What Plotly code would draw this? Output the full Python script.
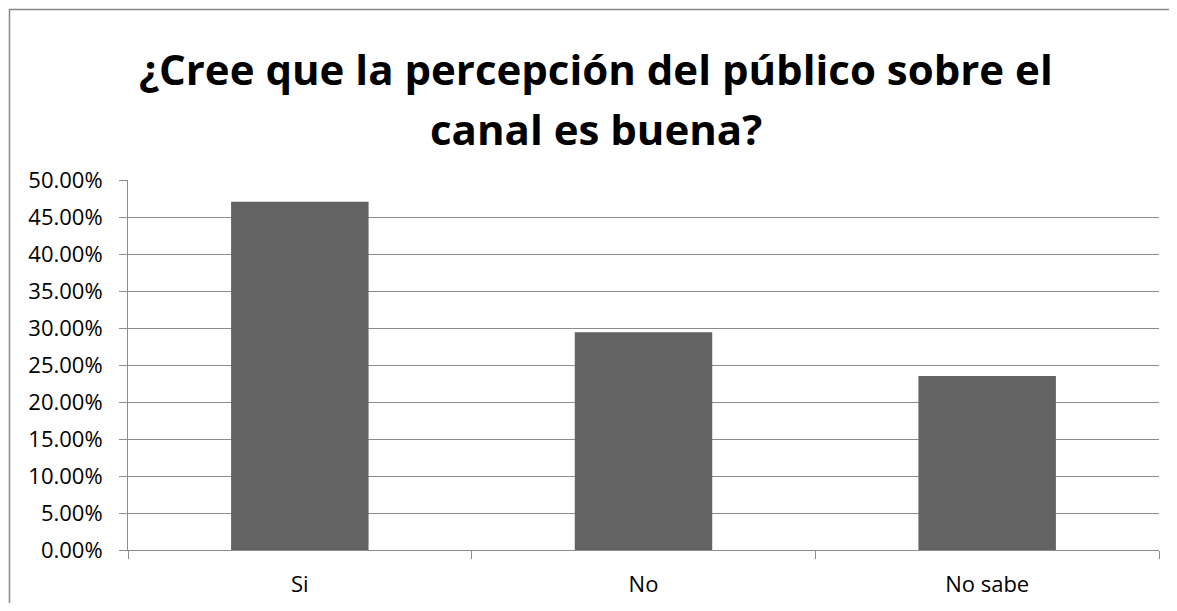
import plotly.graph_objects as go

# ---------------- data ----------------
categories = ["Si", "No", "No sabe"]
values = [0.4706, 0.2941, 0.2353]
title_lines = ["¿Cree que la percepción del público sobre el", "canal es buena?"]

# ---------------- layout (pixels) ----------------
# the page body adds an 8px margin, so figure pixels = screen pixels - 8;
# keep the figure 16px smaller than the window so no scrollbars appear
OFF = 8
W, H = 1177 - 2 * OFF, 611 - 2 * OFF
L, T = 128 - OFF, 180 - OFF
pw, ph = 1031, 370
R = W - L - pw
B = H - T - ph


def px_x(x):
    # screen pixel -> paper x
    return (x - OFF - L) / pw


def px_y(y):
    # screen pixel -> paper y
    return (T + ph - (y - OFF)) / ph


FONT = "Open Sans"
GRID = "#8c8c8c"

fig = go.Figure()
fig.add_trace(go.Bar(
    x=categories,
    y=values,
    marker=dict(color="#636363", line=dict(width=0)),
    hoverinfo="x+y",
))

fig.update_layout(
    width=W, height=H,
    margin=dict(l=L, r=R, t=T, b=B, autoexpand=False),
    paper_bgcolor="white",
    plot_bgcolor="white",
    bargap=0.6,
    showlegend=False,
    font=dict(family=FONT, color="black"),
)

fig.update_yaxes(
    range=[0, 0.5],
    dtick=0.05,
    tickformat=".2%",
    showgrid=True, gridcolor=GRID, gridwidth=1,
    showline=True, linecolor=GRID, linewidth=1,
    ticks="outside", ticklen=8, tickcolor=GRID,
    ticklabelstandoff=12,
    tickfont=dict(size=22, family=FONT, color="black"),
    zeroline=False,
    automargin=False,
)
fig.update_xaxes(
    showline=True, linecolor=GRID, linewidth=1,
    ticks="outside", ticklen=8, tickcolor=GRID,
    tickson="boundaries",
    ticklabelstandoff=15,
    tickfont=dict(size=22, family=FONT, color="black"),
    showgrid=False,
    automargin=False,
)

# title, two lines as in the original
for line, ypix in zip(title_lines, [68, 128]):
    fig.add_annotation(
        text="<b>%s</b>" % line,
        xref="paper", yref="paper",
        x=px_x(596), y=px_y(ypix),
        xanchor="center", yanchor="middle",
        showarrow=False,
        font=dict(size=42, family=FONT, color="black"),
    )

# chart frame (right and bottom edges fall outside the picture)
fig.add_shape(
    type="rect", xref="paper", yref="paper",
    x0=px_x(9.5), x1=px_x(1200), y0=px_y(640), y1=px_y(9.5),
    line=dict(color="#888888", width=1.5),
    fillcolor="rgba(0,0,0,0)", layer="below",
)

fig.write_html("out.html")
